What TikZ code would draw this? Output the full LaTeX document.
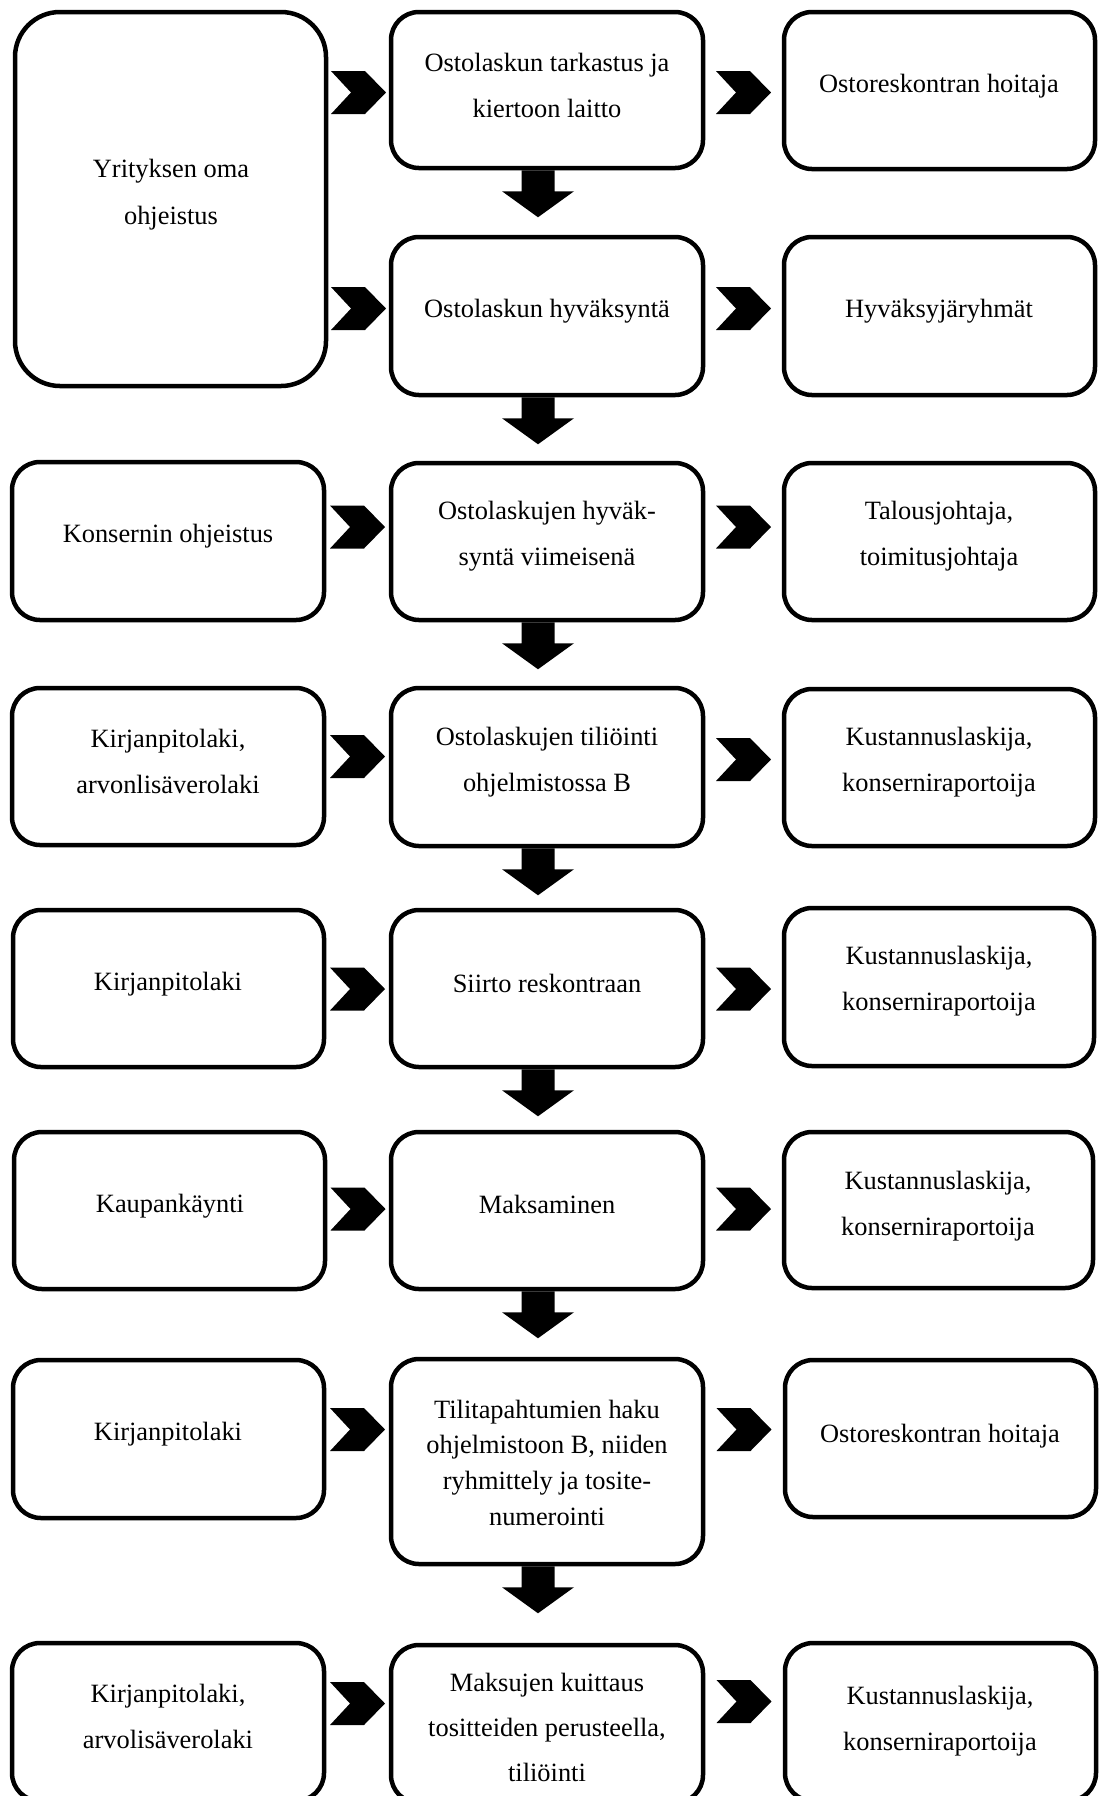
\documentclass[tikz,border=0pt]{standalone}
\usepackage{fontspec}
\setmainfont{Liberation Serif}
\usetikzlibrary{calc}
\newcommand\mkbox[5]{\node[box, minimum width={(#4-#2)*0.5pt}, minimum height={(#5-#3)*0.5pt}] (#1) at ({(#2+#4)/2},{(#3+#5)/2}) {};}
\newcommand\chevr[3]{%
  \coordinate (cvm) at ($(#1.east)!0.5!(#2.west)$);
  \coordinate (cvy) at (0,#3);
  \fill[black] ($(cvm |- cvy)+(-27.5,-21.5)$) -- ++(34,0) -- ++(21,21.5) -- ++(-21,21.5) -- ++(-34,0) -- ++(20,-21.5) -- cycle;
}
\newcommand\downarr[1]{%
  \fill[black] ($(#1.south)+(-25.5,0)$) -- ++(33,0) -- ++(0,21) -- ++(19.5,0) -- ++(-36,26) -- ++(-36,-26) -- ++(19.5,0) -- cycle;
}
\begin{document}
\begin{tikzpicture}[x=0.5pt,y=-0.5pt,
  box/.style={draw, line width=2.25pt, rounded corners=14pt, rectangle, inner sep=0pt, fill=white},
  txt/.style={align=center, font=\fontsize{13.2}{23}\selectfont, inner sep=0pt, yshift=-0.8pt}]
\useasboundingbox (0,0) rectangle (1099,1796);
\fill[white] (0,0) rectangle (1099,1796);
% boxes
\node[box, rounded corners=22.5pt, minimum width={311*0.5pt}, minimum height={374*0.5pt}] (Y) at (170.5,199) {};
\mkbox{M1}{391}{12}{703}{168}
\mkbox{R1}{784}{12}{1095}{169}
\mkbox{M2}{391}{237}{703}{395}
\mkbox{R2}{784}{237}{1095}{395}
\mkbox{L3}{12}{462}{324}{620}
\mkbox{M3}{391}{463}{703}{620}
\mkbox{R3}{784}{463}{1095}{620}
\mkbox{L4}{12}{688}{324}{845}
\mkbox{M4}{391}{688}{703}{846}
\mkbox{R4}{784}{689}{1095}{846}
\mkbox{L5}{13}{910}{324}{1067}
\mkbox{M5}{391}{910}{703}{1067}
\mkbox{R5}{784}{908}{1094}{1066}
\mkbox{L6}{14}{1132}{325}{1289}
\mkbox{M6}{391}{1132}{703}{1289}
\mkbox{R6}{784}{1132}{1093}{1288}
\mkbox{L7}{13}{1360}{324}{1518}
\mkbox{M7}{391}{1359}{703}{1564}
\mkbox{R7}{785}{1360}{1096}{1517}
\mkbox{L8}{12}{1643}{324}{1801}
\mkbox{M8}{391}{1645}{703}{1803}
\mkbox{R8}{785}{1643}{1096}{1801}
% texts
\node[txt, font=\fontsize{13.2}{23.5}\selectfont] (tY) at (171,193) {Yrityksen oma\\ohjeistus};
\node[txt] (tM1) at (547,84) {Ostolaskun tarkastus ja\\kiertoon laitto};
\node[txt] (tR1) at (939,85) {Ostoreskontran hoitaja};
\node[txt] (tM2) at (547,310) {Ostolaskun hyväksyntä};
\node[txt] (tR2) at (939,310) {Hyväksyjäryhmät};
\node[txt] (tL3) at (168,535) {Konsernin ohjeistus};
\node[txt] (tM3) at (547,535) {Ostolaskujen hyväk-\\syntä viimeisenä};
\node[txt] (tR3) at (939,535) {Talousjohtaja,\\toimitusjohtaja};
\node[txt] (tL4) at (168,760) {Kirjanpitolaki,\\arvonlisäverolaki};
\node[txt] (tM4) at (547,761) {Ostolaskujen tiliöinti\\ohjelmistossa B};
\node[txt] (tR4) at (939,761) {Kustannuslaskija,\\konserniraportoija};
\node[txt] (tL5) at (168,983) {Kirjanpitolaki};
\node[txt] (tM5) at (547,982) {Siirto reskontraan};
\node[txt] (tR5) at (939,980) {Kustannuslaskija,\\konserniraportoija};
\node[txt] (tL6) at (170,1205) {Kaupankäynti};
\node[txt] (tM6) at (547,1203) {Maksaminen};
\node[txt] (tR6) at (938,1205) {Kustannuslaskija,\\konserniraportoija};
\node[txt] (tL7) at (168,1433) {Kirjanpitolaki};
\node[txt, font=\fontsize{13.2}{17.8}\selectfont] (tM7) at (547,1461) {Tilitapahtumien haku\\ohjelmistoon B, niiden\\ryhmittely ja tosite-\\numerointi};
\node[txt] (tR7) at (940,1435) {Ostoreskontran hoitaja};
\node[txt] (tL8) at (168,1715) {Kirjanpitolaki,\\arvolisäverolaki};
\node[txt, font=\fontsize{13.2}{22.5}\selectfont] (tM8) at (547,1726) {Maksujen kuittaus\\tositteiden perusteella,\\tiliöinti};
\node[txt] (tR8) at (940,1720) {Kustannuslaskija,\\konserniraportoija};
% chevrons
\chevr{Y}{M1}{92.5}
\chevr{M1}{R1}{92.5}
\chevr{Y}{M2}{308.5}
\chevr{M2}{R2}{308.5}
\chevr{L3}{M3}{527}
\chevr{M3}{R3}{527}
\chevr{L4}{M4}{756.5}
\chevr{M4}{R4}{759.5}
\chevr{L5}{M5}{989}
\chevr{M5}{R5}{989}
\chevr{L6}{M6}{1209}
\chevr{M6}{R6}{1209}
\chevr{L7}{M7}{1429.5}
\chevr{M7}{R7}{1429.5}
\chevr{L8}{M8}{1703.5}
\chevr{M8}{R8}{1701.5}
% down arrows
\downarr{M1}
\downarr{M2}
\downarr{M3}
\downarr{M4}
\downarr{M5}
\downarr{M6}
\downarr{M7}
\end{tikzpicture}
\end{document}
